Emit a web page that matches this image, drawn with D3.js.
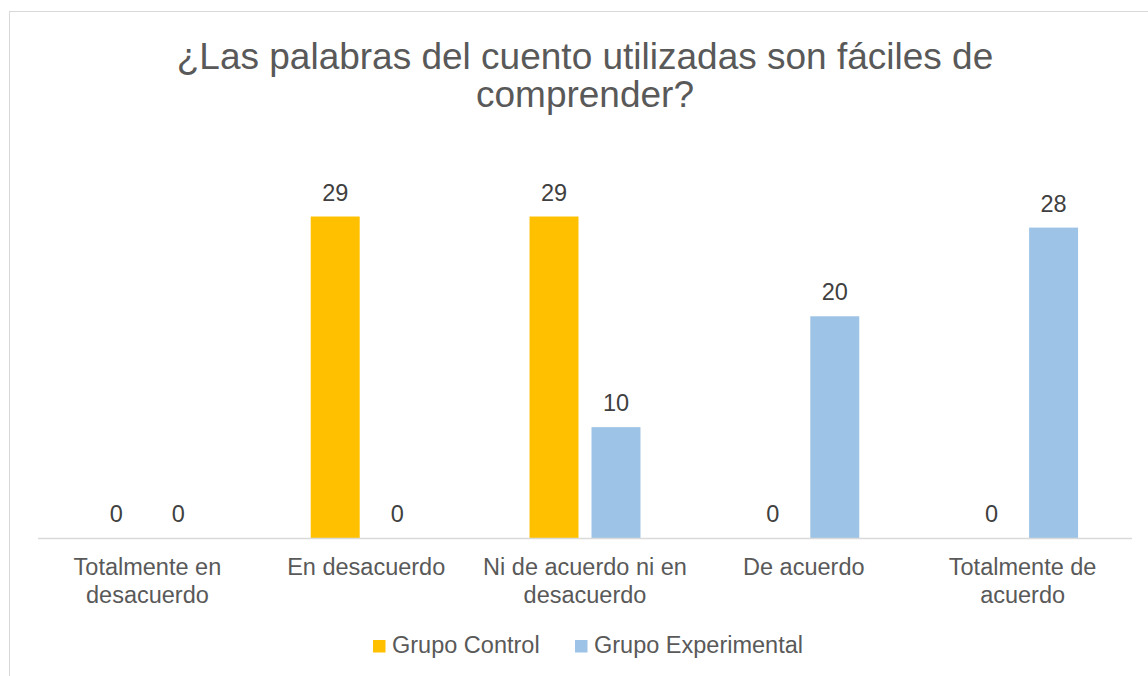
<!DOCTYPE html>
<meta charset="utf-8">
<style>
    body { margin: 0; background: #fff; }
    text { font-family: "Liberation Sans", Arial, sans-serif; }
</style>
<body>
<script src="https://cdn.jsdelivr.net/npm/d3@7/dist/d3.min.js"></script>
<script>

    var titleLines = ["¿Las palabras del cuento utilizadas son fáciles de", "comprender?"];
    var categories = [
        ["Totalmente en", "desacuerdo"],
        ["En desacuerdo"],
        ["Ni de acuerdo ni en", "desacuerdo"],
        ["De acuerdo"],
        ["Totalmente de", "acuerdo"]
    ];
    var seriesNames = ["Grupo Control", "Grupo Experimental"];
    var grupoControl = [0, 29, 29, 0, 0];
    var grupoExperimental = [0, 0, 10, 20, 28];
    var colors = ["#FFC000", "#9DC3E6"];

    var width = 1148, height = 676;
    var plot = {left: 38, right: 1132, top: 150, bottom: 538};

    var svg = d3.select("body").append("svg")
            .attr("width", width)
            .attr("height", height);

    // chart border (runs off the right and bottom edges)
    svg.append("rect")
            .attr("x", 9.5).attr("y", 11.5)
            .attr("width", width).attr("height", height)
            .attr("fill", "#fff")
            .attr("stroke", "#d9d9d9");

    svg.append("text")
            .attr("text-anchor", "middle")
            .attr("fill", "#595959")
            .style("font-size", "37px")
            .selectAll("tspan")
            .data(titleLines)
            .enter().append("tspan")
            .attr("x", 585)
            .attr("y", function(d, i) { return 69 + i * 38; })
            .text(function(d) { return d; });

    var idx = d3.range(categories.length);

    var x0 = d3.scaleBand()
            .domain(idx)
            .range([plot.left, plot.right])
            .paddingInner(0.493)
            .paddingOuter(0.2465);

    var x1 = d3.scaleBand()
            .domain([0, 1])
            .range([0, x0.bandwidth()])
            .paddingInner(0.21);

    var y = d3.scaleLinear()
            .domain([0, 35])
            .range([plot.bottom, plot.top]);

    var series = [grupoControl, grupoExperimental];

    var groups = svg.selectAll("g.cat")
            .data(idx)
            .enter().append("g")
            .attr("class", "cat")
            .attr("transform", function(i) { return "translate(" + x0(i) + ",0)"; });

    groups.selectAll("rect")
            .data(function(i) { return series.map(function(s, k) { return {k: k, v: s[i]}; }); })
            .enter().append("rect")
            .attr("x", function(d) { return x1(d.k); })
            .attr("y", function(d) { return y(d.v); })
            .attr("width", x1.bandwidth())
            .attr("height", function(d) { return y(0) - y(d.v); })
            .attr("fill", function(d) { return colors[d.k]; });

    groups.selectAll("text.val")
            .data(function(i) { return series.map(function(s, k) { return {k: k, v: s[i]}; }); })
            .enter().append("text")
            .attr("class", "val")
            .attr("x", function(d) { return x1(d.k) + x1.bandwidth() / 2; })
            .attr("y", function(d) { return y(d.v) - 16; })
            .attr("text-anchor", "middle")
            .attr("fill", "#404040")
            .style("font-size", "23.5px")
            .text(function(d) { return d.v; });

    // category axis
    var xAxis = d3.axisBottom(x0).tickSize(0).tickSizeOuter(0).tickFormat("");
    var ax = svg.append("g")
            .attr("transform", "translate(0," + plot.bottom + ")")
            .call(xAxis);
    ax.select(".domain").remove();
    ax.append("line")
            .attr("x1", x0.range()[0])
            .attr("x2", x0.range()[1])
            .attr("y1", 0.5).attr("y2", 0.5)
            .attr("stroke", "#d9d9d9")
            .attr("stroke-width", 1.5);

    ax.selectAll(".tick text").remove();
    ax.selectAll(".tick").append("text")
            .attr("text-anchor", "middle")
            .attr("fill", "#595959")
            .style("font-size", "23.5px")
            .selectAll("tspan")
            .data(function(i) { return categories[i]; })
            .enter().append("tspan")
            .attr("x", 0)
            .attr("y", function(d, j) { return 37 + j * 27.7; })
            .text(function(d) { return d; });

    // legend
    var legendX = [373, 575];
    var legend = svg.selectAll("g.legend")
            .data(seriesNames)
            .enter().append("g")
            .attr("class", "legend")
            .attr("transform", function(d, i) { return "translate(" + legendX[i] + ",640)"; });

    legend.append("rect")
            .attr("width", 12.5).attr("height", 12.5)
            .attr("fill", function(d, i) { return colors[i]; });

    legend.append("text")
            .attr("x", 19)
            .attr("y", 13)
            .attr("fill", "#595959")
            .style("font-size", "23.5px")
            .text(function(d) { return d; });

</script>
</body>
